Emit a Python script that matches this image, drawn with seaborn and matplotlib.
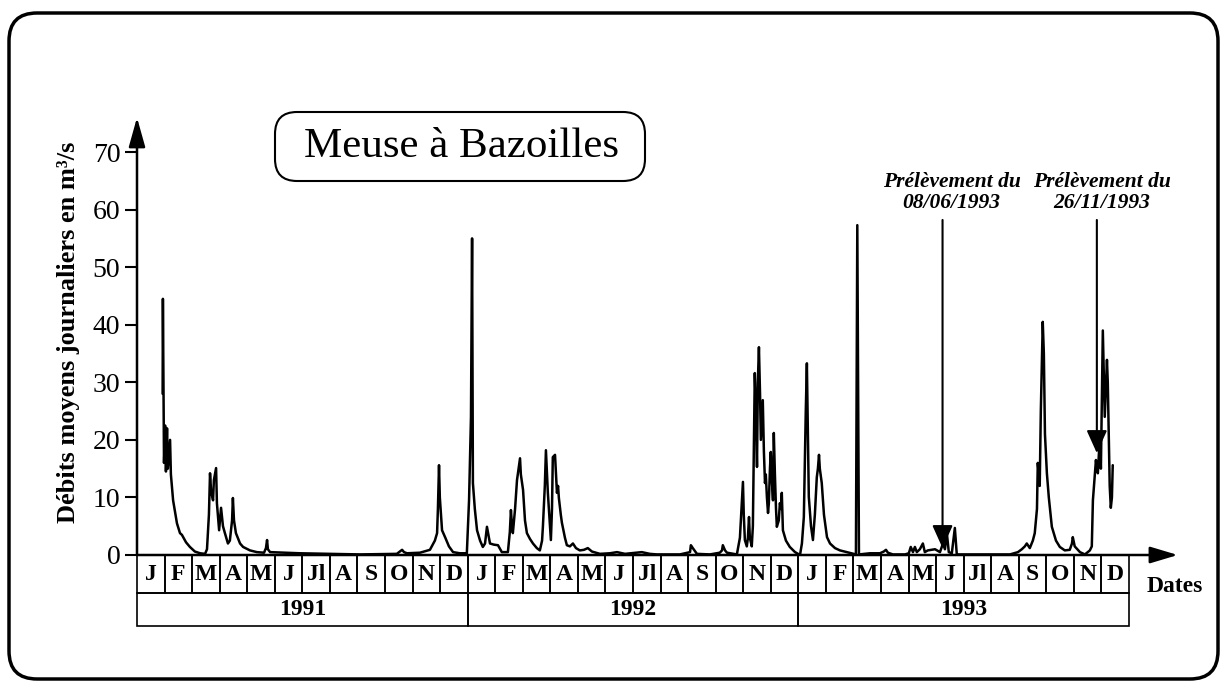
import numpy as np
import pandas as pd
import matplotlib
matplotlib.use("Agg")
import matplotlib.pyplot as plt
import seaborn as sns
from matplotlib.patches import FancyBboxPatch, Rectangle
from matplotlib.transforms import IdentityTransform, blended_transform_factory

# ---------------- data (x = months elapsed since 1 Jan 1991) ----------------
months_1991 = [0.93, 0.94, 0.98, 1.02, 1.05, 1.09, 1.12, 1.20, 1.23, 1.31, 1.45, 1.56, 1.63, 1.78, 1.92,
               2.10, 2.29, 2.47, 2.54, 2.61, 2.65, 2.69, 2.76, 2.79, 2.87, 2.90, 2.98, 3.01, 3.05, 3.12,
               3.19, 3.30, 3.37, 3.45, 3.48, 3.52, 3.59, 3.74, 3.85, 4.10, 4.35, 4.61, 4.68, 4.72, 4.75,
               4.83, 5.91, 7.00, 8.09, 9.43, 9.54, 9.62, 9.69, 9.80, 10.27, 10.63, 10.81, 10.89, 10.92,
               10.96, 10.99, 11.07, 11.18, 11.32, 11.47, 11.72, 11.97]
flow_1991 = [28, 44.5, 16, 22.5, 14.5, 22, 15, 20, 14, 9.5, 5.5, 3.8, 3.5, 2.2, 1.4,
             0.6, 0.3, 0.2, 1.0, 7, 14.2, 11, 9.5, 13, 15.1, 9, 4.3, 6, 8.2, 5,
             3.8, 2, 2.5, 6, 9.9, 6, 3.8, 2.0, 1.4, 0.8, 0.5, 0.4, 1.2, 2.6, 1.0,
             0.5, 0.3, 0.2, 0.1, 0.2, 0.6, 0.9, 0.5, 0.3, 0.4, 0.9, 2.5, 3.8, 8,
             15.6, 10, 4.3, 3.1, 1.5, 0.5, 0.3, 0.3]

months_1992 = [12.05, 12.12, 12.16, 12.19, 12.26, 12.34, 12.45, 12.55, 12.63, 12.70, 12.77, 12.81, 12.95,
               13.10, 13.24, 13.46, 13.53, 13.57, 13.61, 13.64, 13.72, 13.79, 13.90, 13.93, 14.01, 14.08,
               14.15, 14.26, 14.37, 14.51, 14.62, 14.70, 14.73, 14.80, 14.84, 14.88, 14.91, 14.99, 15.02,
               15.06, 15.09, 15.17, 15.24, 15.28, 15.31, 15.38, 15.42, 15.53, 15.60, 15.71, 15.82, 15.93,
               16.07, 16.22, 16.36, 16.51, 16.80, 17.16, 17.42, 17.71, 18.32, 18.61, 18.87, 19.70, 20.07,
               20.10, 20.17, 20.32, 20.79, 21.15, 21.23, 21.26, 21.34, 21.41, 21.77, 21.88, 21.95, 21.99,
               22.02, 22.06, 22.13, 22.17, 22.21, 22.24, 22.31, 22.35, 22.39, 22.42, 22.46, 22.50, 22.53,
               22.57, 22.61, 22.64, 22.68, 22.71, 22.75, 22.79, 22.82, 22.86, 22.90, 22.93, 22.97, 23.00,
               23.04, 23.08, 23.11, 23.15, 23.19, 23.22, 23.29, 23.33, 23.37, 23.40, 23.44, 23.55, 23.69,
               23.88, 24.06]
flow_1992 = [9.5, 24, 55, 12.5, 8, 4.3, 2.5, 1.4, 2, 4.9, 3, 2, 1.8,
             1.7, 0.5, 0.5, 4, 7.8, 5, 3.8, 8, 13, 16.8, 14, 11.3, 6,
             3.8, 2.8, 2, 1.2, 0.8, 2.5, 4.9, 12, 18.2, 14, 10.8, 5, 2.6,
             8, 17, 17.4, 10.8, 12, 9.9, 7, 5.6, 3, 1.7, 1.5, 2, 1.2,
             0.8, 0.9, 1.2, 0.6, 0.2, 0.3, 0.5, 0.2, 0.5, 0.2, 0.1, 0.1, 0.5,
             1.7, 1.2, 0.2, 0.1, 0.4, 0.8, 1.7, 0.8, 0.4, 0.1, 3, 9, 12.7,
             7, 2.6, 1.5, 3, 6.6, 3, 1.5, 5, 20, 31.6, 25, 15.3, 30,
             36.1, 28, 20, 24, 26.9, 18, 12.5, 14, 10, 7.3, 9, 15, 17.9,
             13, 9.5, 21.2, 14, 8, 4.9, 6, 9, 8, 10.8, 4.3, 2.5, 1.4,
             0.5, 0.0]

months_1993 = [24.13, 24.20, 24.27, 24.31, 24.35, 24.38, 24.46, 24.53, 24.60, 24.67, 24.71, 24.75, 24.78,
               24.85, 24.93, 25.04, 25.15, 25.33, 25.51, 25.76, 26.09, 26.14, 26.20, 26.60, 26.96, 27.10,
               27.18, 27.25, 27.43, 27.87, 28.01, 28.08, 28.16, 28.23, 28.30, 28.41, 28.52, 28.59, 28.70,
               28.96, 29.14, 29.25, 29.32, 29.39, 29.46, 29.57, 29.68, 29.75, 30.22, 30.95, 31.68, 31.97,
               32.11, 32.22, 32.29, 32.40, 32.51, 32.58, 32.66, 32.69, 32.76, 32.80, 32.87, 32.91, 32.95,
               33.02, 33.09, 33.20, 33.35, 33.49, 33.67, 33.85, 33.93, 33.96, 34.03, 34.22, 34.40, 34.58,
               34.65, 34.69, 34.76, 34.80, 34.83, 34.87, 34.94, 34.98, 35.05, 35.12, 35.20, 35.23, 35.27,
               35.30, 35.34, 35.38, 35.41]
flow_1993 = [2, 6.6, 25, 33.3, 20, 10.1, 5, 2.6, 7, 13.5, 15, 17.4, 15,
             12.5, 7, 3.1, 2.0, 1.2, 0.8, 0.5, 0.1, 57.3, 0.1, 0.3, 0.3, 0.6,
             0.9, 0.4, 0.1, 0.1, 0.3, 1.4, 0.5, 1.4, 0.5, 1.0, 2.0, 0.5, 0.8,
             1.0, 0.5, 2.0, 1.0, 3.8, 0.5, 0.3, 4.7, 0.1, 0.1, 0.1, 0.1, 0.5,
             1.0, 1.5, 2.0, 1.2, 2.5, 3.8, 8, 16, 12, 25, 40.5, 35, 21,
             14.2, 10, 4.9, 2.5, 1.4, 0.8, 0.9, 2, 3.1, 1.5, 0.5, 0.1, 0.8,
             1.5, 9.5, 14, 16.5, 15, 14.2, 20.5, 15, 39, 24, 33.9, 30, 20,
             12, 8.2, 10, 15.6]

month_labels = ['J', 'F', 'M', 'A', 'M', 'J', 'Jl', 'A', 'S', 'O', 'N', 'D']
years = ['1991', '1992', '1993']
yticks = [0, 10, 20, 30, 40, 50, 60, 70]
samples = [(8, 6, 1993, 1.2), (26, 11, 1993, 17.7)]   # day, month, year, flow at arrow tip
sample_texts = ['Prélèvement du\n08/06/1993', 'Prélèvement du\n26/11/1993']

# ---------------- figure ----------------
sns.set_theme(style="white")
plt.rcParams['font.family'] = ['Liberation Serif', 'DejaVu Serif']

W, H = 1221, 682
fig = plt.figure(figsize=(W / 100, H / 100), dpi=100)
fig.patch.set_facecolor('white')
ax = fig.add_axes([137 / W, 1 - 555 / H, 992 / W, 437.5 / H])
ax.set_facecolor('none')

df = pd.DataFrame({
    'mois': np.concatenate([months_1991, months_1992, months_1993]),
    'debit': np.concatenate([flow_1991, flow_1992, flow_1993]),
})
sns.lineplot(data=df, x='mois', y='debit', color='black', lw=1.8,
             estimator=None, sort=False, ax=ax, legend=False)

ax.set_xlim(0, 36)
ax.set_ylim(0, 76)
for s in ax.spines.values():
    s.set_visible(False)
ax.set_xticks([])
ax.set_xlabel('')
ax.set_yticks(yticks)
ax.tick_params(axis='y', left=True, direction='out', length=9, width=1.5, color='black',
               pad=3, labelsize=20, labelcolor='black')
ax.set_ylabel('Débits moyens journaliers en m³/s', fontsize=19, fontweight='bold', color='black')
ax.yaxis.set_label_coords(-0.057, 0.51)

# axis arrows
ax.annotate('', xy=(0, 76), xytext=(0, 0), annotation_clip=False,
            arrowprops=dict(arrowstyle='-|>,head_length=1.0,head_width=0.28', mutation_scale=18,
                            lw=1.8, color='black', shrinkA=0, shrinkB=0))
ax.annotate('', xy=(37.77, 0), xytext=(0, 0), annotation_clip=False,
            arrowprops=dict(arrowstyle='-|>,head_length=1.0,head_width=0.3', mutation_scale=17,
                            lw=1.8, color='black', shrinkA=0, shrinkB=0))

# month / year boxes
trans = blended_transform_factory(ax.transData, ax.transAxes)
row1, row2 = 0.087, 0.162
for k, yr in enumerate(years):
    for i, lab in enumerate(month_labels):
        x0 = 12 * k + i
        ax.add_patch(Rectangle((x0, -row1), 1, row1, transform=trans, fill=False,
                               lw=1.2, ec='black', clip_on=False))
        ax.text(x0 + 0.5, -row1 / 2, lab, transform=trans, ha='center', va='center',
                fontsize=17, fontweight='bold', color='black')
    ax.add_patch(Rectangle((12 * k, -row2), 12, row2 - row1, transform=trans, fill=False,
                           lw=1.2, ec='black', clip_on=False))
    ax.text(12 * k + 6, -(row1 + row2) / 2, yr, transform=trans, ha='center', va='center',
            fontsize=17, fontweight='bold', color='black')
ax.text(36.65, -0.073, 'Dates', transform=trans, ha='left', va='center',
        fontsize=17, fontweight='bold', color='black')

# sampling annotations
offsets = [0.33, 0.18]
for (d, mo, yr, tip), txt, off in zip(samples, sample_texts, offsets):
    xm = (yr - 1991) * 12 + (mo - 1) + (d - 1) / 30.0
    ax.annotate('', xy=(xm, tip), xytext=(xm, 58.2), annotation_clip=False,
                arrowprops=dict(arrowstyle='-|>,head_length=1.0,head_width=0.45', mutation_scale=14,
                                lw=1.5, color='black', shrinkA=0, shrinkB=0))
    ax.text(xm + off, 59.4, txt, ha='center', va='bottom', fontsize=15.5, fontstyle='italic',
            fontweight='bold', linespacing=1.05, color='black')

# title box
fig.add_artist(FancyBboxPatch((275, H - 181), 370, 69, boxstyle='round,pad=0,rounding_size=22',
                              transform=IdentityTransform(), fill=False, lw=1.5, ec='black'))
fig.text(461, H - 147, 'Meuse à Bazoilles', transform=IdentityTransform(), ha='center', va='center',
         fontsize=31, color='black')

# outer frame
fig.add_artist(FancyBboxPatch((9, 3), 1209, 666, boxstyle='round,pad=0,rounding_size=28',
                              transform=IdentityTransform(), fill=False, lw=2.5, ec='black'))

fig.savefig('out.png', dpi=100, facecolor='white')
